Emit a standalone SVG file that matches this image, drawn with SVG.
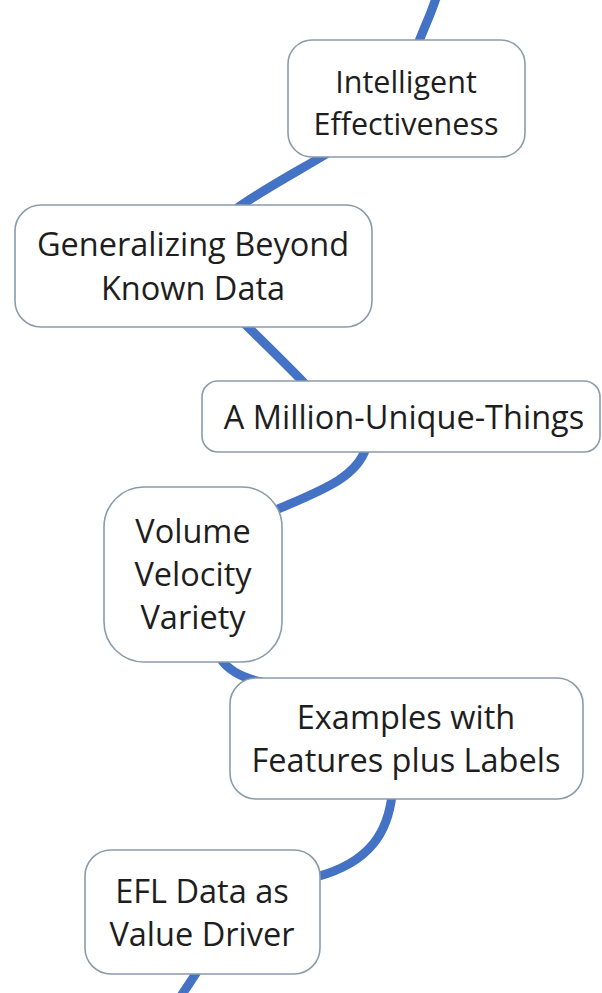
<svg xmlns="http://www.w3.org/2000/svg" width="602" height="993" viewBox="0 0 602 993">
  <style>
    .wire { fill: none; stroke: #4472c4; stroke-width: 9; stroke-linecap: butt; }
    .box { fill: #ffffff; stroke: #8a9cab; stroke-width: 1.6; }
    .lbl { font-family: "Open Sans", Lato, sans-serif; font-size: 32.5px; fill: #1e1e1e; text-anchor: middle; }
    .lbl.sm { font-size: 30.5px; }
  </style>
  <rect width="602" height="993" fill="#ffffff"/>

  <!-- the winding path that links the steps -->
  <g id="connectors">
    <path class="wire" d="M 436 -2 C 431 14 424 28 418 44"/>
    <path class="wire" d="M 328 153 C 300 170 262 190 236 209"/>
    <path class="wire" d="M 244 323 C 264 343 286 364 306 385"/>
    <path class="wire" d="M 366 448 C 356 478 322 490 276 510"/>
    <path class="wire" d="M 220 658 C 228 670 242 678 262 682"/>
    <path class="wire" d="M 392 795 C 388 830 372 862 316 877"/>
    <path class="wire" d="M 198 970 C 192 980 186 988 181 996"/>
  </g>

  <g id="intelligent-effectiveness">
    <rect class="box" x="288" y="40" width="237" height="117" rx="24"/>
    <text class="lbl sm" x="406" y="93">Intelligent</text>
    <text class="lbl sm" x="406" y="135">Effectiveness</text>
  </g>

  <g id="generalizing-beyond-known-data">
    <rect class="box" x="15" y="205" width="357" height="122" rx="26"/>
    <text class="lbl" x="193" y="256">Generalizing Beyond</text>
    <text class="lbl" x="193" y="300">Known Data</text>
  </g>

  <g id="million-unique-things">
    <rect class="box" x="202" y="381" width="398" height="71" rx="16"/>
    <text class="lbl" x="404" y="429">A Million-Unique-Things</text>
  </g>

  <g id="volume-velocity-variety">
    <rect class="box" x="104" y="487" width="178" height="175" rx="40"/>
    <text class="lbl" x="193" y="543">Volume</text>
    <text class="lbl" x="193" y="586">Velocity</text>
    <text class="lbl" x="193" y="629">Variety</text>
  </g>

  <g id="examples-features-labels">
    <rect class="box" x="230" y="678" width="353" height="121" rx="26"/>
    <text class="lbl" x="406" y="729">Examples with</text>
    <text class="lbl" x="406" y="772">Features plus Labels</text>
  </g>

  <g id="efl-data-value-driver">
    <rect class="box" x="85" y="850" width="235" height="124" rx="26"/>
    <text class="lbl" x="202" y="903">EFL Data as</text>
    <text class="lbl" x="202" y="946">Value Driver</text>
  </g>
</svg>
